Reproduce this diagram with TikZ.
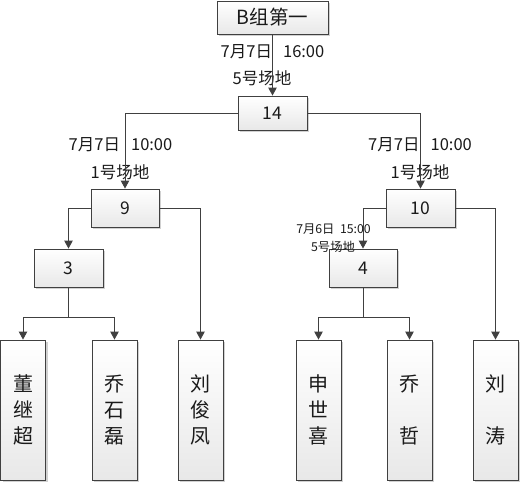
\documentclass[tikz,border=0pt]{standalone}
\usepackage{fontspec}
\setmainfont{Noto Sans CJK SC}
\usetikzlibrary{arrows.meta,shadows}
\definecolor{linec}{HTML}{404040}
\definecolor{txtc}{HTML}{1A1A1A}
\tikzset{
  boxbase/.style={draw=linec, line width=0.9pt, rectangle, inner sep=0pt, top color=white, bottom color=black!9,
     drop shadow={shadow xshift=2pt, shadow yshift=-2pt, opacity=0.18, fill=black}, text=txtc},
  matchbox/.style={boxbase, minimum width=69pt, minimum height=38pt, font=\fontsize{17.5}{17.5}\selectfont},
  namebox/.style={boxbase, minimum width=45pt, minimum height=140pt, font=\fontsize{20}{26}\selectfont, align=center},
  conn/.style={draw=linec, line width=0.9pt},
  arr/.style={conn, -{Triangle[length=8pt,width=8.5pt]}},
  lbl/.style={inner sep=0pt, text=txtc, font=\fontsize{16.5}{16.5}\selectfont},
  slbl/.style={inner sep=0pt, text=txtc, font=\fontsize{12.3}{12.3}\selectfont},
}
\begin{document}
\begin{tikzpicture}[x=1pt,y=-1pt]
\useasboundingbox (0,0) rectangle (521,483);
% nodes
\node[matchbox, minimum width=111pt, minimum height=33pt, font=\fontsize{19.5}{19.5}\selectfont] (top) at (272.5,17.5) {B组第一};
\node[matchbox, minimum height=34pt] (n14) at (272.5,113) {14};
\node[matchbox, minimum width=68pt] (n9) at (125,208) {9};
\node[matchbox] (n10) at (420.5,208) {10};
\node[matchbox] (n3) at (68.5,268) {3};
\node[matchbox, minimum width=68pt] (n4) at (363,268) {4};
\node[namebox] (dong) at (23,410) {董\\继\\超};
\node[namebox] (qsl) at (114.5,410) {乔\\石\\磊};
\node[namebox] (ljf) at (200.5,410) {刘\\俊\\凤};
\node[namebox] (ssx) at (318.5,410) {申\\世\\喜};
\node[namebox] (qz) at (409.5,410) {乔\\\\哲};
\node[namebox] (lt) at (495.5,410) {刘\\\\涛};
% labels
\node[lbl] (l1a) at (272.5,52) {7月7日\ \ \ 16:00};
\node[lbl] (l1b) at (262,78) {5号场地};
\node[lbl] (l2a) at (120.5,145) {7月7日\ \ \ 10:00};
\node[lbl] (l2b) at (120,172) {1号场地};
\node[lbl] (l3a) at (420,145) {7月7日\ \ \ 10:00};
\node[lbl] (l3b) at (420,172) {1号场地};
\node[slbl] (l4a) at (333.5,229) {7月6日\ \ 15:00};
\node[slbl] (l4b) at (333,247) {5号场地};
% connectors
\draw[arr] (top.south) -- (n14.north);
\draw[arr] (n14.west) -| (n9.north);
\draw[arr] (n14.east) -| (n10.north);
\draw[arr] (n9.west) -| (n3.north);
\draw[arr] (n9.east) -| (ljf.north);
\draw[arr] (n10.west) -| (n4.north);
\draw[arr] (n10.east) -| (lt.north);
\coordinate (j3) at (68.5,317);
\coordinate (j4) at (363,317);
\draw[conn] (n3.south) -- (j3);
\draw[arr] (j3) -| (dong.north);
\draw[arr] (j3) -| (qsl.north);
\draw[conn] (n4.south) -- (j4);
\draw[arr] (j4) -| (ssx.north);
\draw[arr] (j4) -| (qz.north);
\end{tikzpicture}
\end{document}
